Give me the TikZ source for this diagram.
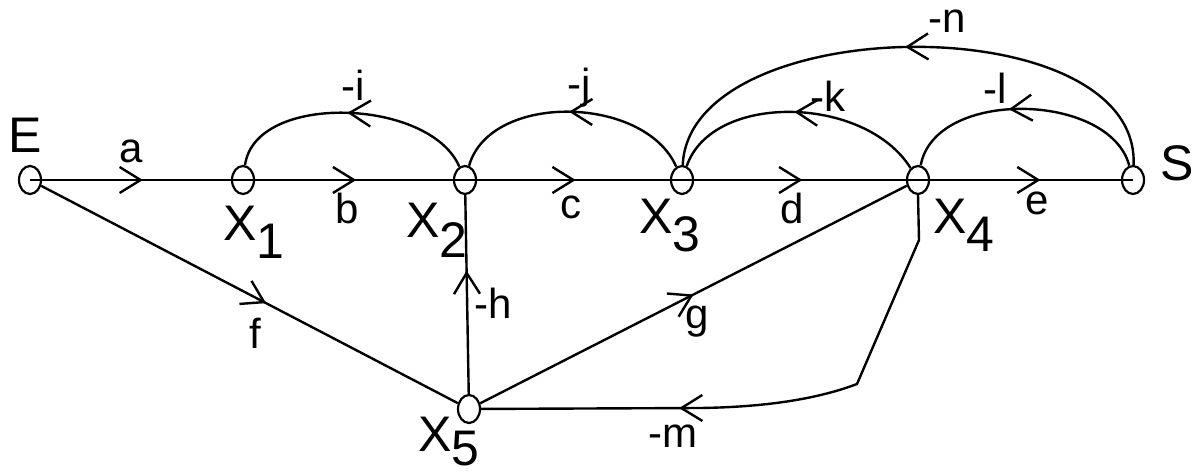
\documentclass[tikz,border=0pt]{standalone}
\usepackage{fontspec}
\setmainfont{Liberation Sans}
\usetikzlibrary{arrows.meta,decorations.markings,shapes.geometric}
\begin{document}
\begin{tikzpicture}[x=1pt,y=-1pt,line width=2.4pt,
  vtx/.style={ellipse,draw,inner sep=0pt,minimum width=22pt,minimum height=28pt,line width=2.2pt},
  nm/.style={font=\fontsize{50}{50}\selectfont,inner sep=0pt},
  lbl/.style={font=\fontsize{42}{42}\selectfont,inner sep=0pt},
  arr/.style={postaction={decorate},decoration={markings,mark=at position #1 with {\arrow{Straight Barb[length=21pt,width=26pt,line width=2.4pt]}}}}]
\useasboundingbox (0,0) rectangle (1197,476);
% vertices
\node[vtx] (E)  at (30,180) {};
\node[vtx] (X1) at (243,180) {};
\node[vtx] (X2) at (465,180) {};
\node[vtx] (X3) at (682,180) {};
\node[vtx] (X4) at (918,180) {};
\node[vtx] (S)  at (1133,180) {};
\node[vtx] (X5) at (469,409) {};
% forward path
\draw[arr=0.53] (E.center) -- (X1.center);
\draw[arr=0.51] (X1.center) -- (X2.center);
\draw[arr=0.51] (X2.center) -- (X3.center);
\draw[arr=0.51] (X3.center) -- (X4.center);
\draw[arr=0.57] (X4.center) -- (S.center);
% lower branches
\draw[arr=0.54] (E) -- (X5);
\draw[arr=0.5] (X5) -- (X4);
\draw[arr=0.62] (X5) -- (X2);
\coordinate (m1) at (919,240);
\coordinate (m2) at (857,384);
\coordinate (m3) at (700,408);
\draw[arr=-198pt] (X4.south) -- (m1) -- (m2) .. controls (820,398) and (770,407) .. (m3) -- (X5);
% feedback arcs
\draw[arr=0.51] (X2) .. controls (430,98) and (255,92) .. (X1);
\draw[arr=0.51] (X3) .. controls (645,95) and (490,92) .. (X2);
\draw[arr=0.51] (X4) .. controls (865,95) and (712,92) .. (X3);
\draw[arr=0.56] (S) .. controls (1110,92) and (935,88) .. (X4);
\draw[arr=0.51] (S) .. controls (1140,5) and (690,10) .. (X3);
% vertex names
\node[nm] (lE) at (25,135) {E};
\node[nm] (lS) at (1177,163) {S};
\node[nm,anchor=base west] (lX1) at (222,240) {X\raisebox{-18pt}{1}};
\node[nm,anchor=base west] (lX2) at (405,237) {X\raisebox{-20pt}{2}};
\node[nm,anchor=base west] (lX3) at (638,233) {X\raisebox{-18pt}{3}};
\node[nm,anchor=base west] (lX4) at (932,233) {X\raisebox{-18pt}{4}};
\node[nm,anchor=base west] (lX5) at (417,451) {X\raisebox{-14pt}{5}};
% branch labels
\node[lbl] (la) at (131,151) {a};
\node[lbl] (lb) at (347,208) {b};
\node[lbl] (lc) at (571,207) {c};
\node[lbl] (ld) at (792,208) {d};
\node[lbl] (le) at (1037,203) {e};
\node[lbl] (lf) at (255,333) {f};
\node[lbl] (lg) at (697,322) {g};
\node[lbl] (lh) at (493,303) {-h};
\node[lbl] (li) at (353,85) {-i};
\node[lbl] (lj) at (579,88) {-j};
\node[lbl] (lk) at (828,96) {-k};
\node[lbl] (ll) at (995,88) {-l};
\node[lbl] (lm) at (673,436) {-m};
\node[lbl] (ln) at (947,21) {-n};
\end{tikzpicture}
\end{document}
